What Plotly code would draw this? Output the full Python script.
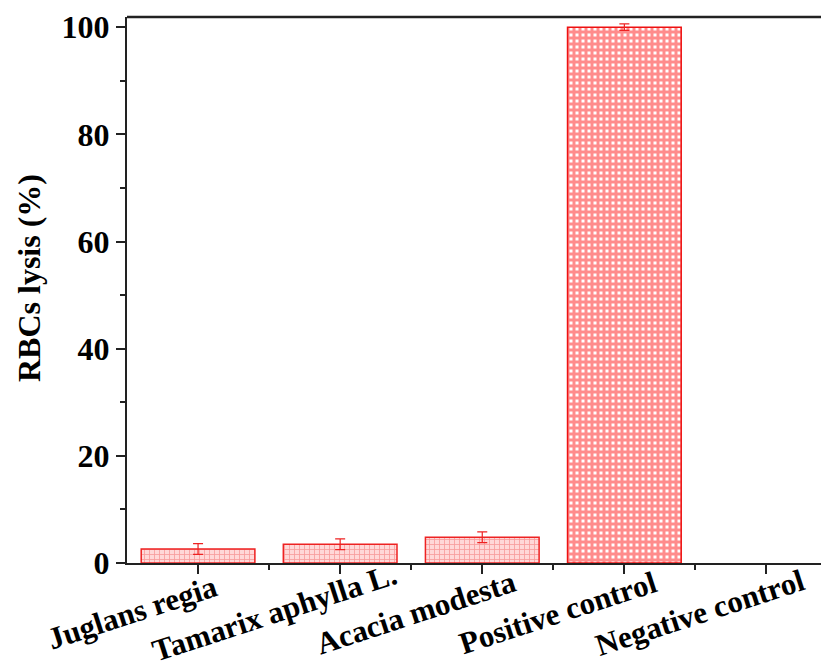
import plotly.graph_objects as go

categories = ["Juglans regia", "Tamarix aphylla L.", "Acacia modesta", "Positive control", "Negative control"]
values = [2.6, 3.5, 4.8, 100.0, None]
errors = [1.0, 1.0, 1.0, 0.6, 0.0]

xpos = list(range(len(categories)))
font_family = "Liberation Serif, Times New Roman, serif"

fig = go.Figure()
fig.add_trace(go.Bar(
    x=xpos[:3], y=values[:3], width=0.8,
    marker=dict(color="rgba(255,190,190,1)",
                line=dict(color="#ee2222", width=1.5),
                pattern=dict(shape="+", fgcolor="#f06060", bgcolor="#ffd8d8", size=5, solidity=0.3)),
    error_y=dict(type="data", array=errors[:3], visible=True, color="#ee2222", thickness=1.2, width=5),
    showlegend=False,
))
fig.add_trace(go.Bar(
    x=xpos[3:], y=values[3:], width=0.8,
    marker=dict(color="#ff2020",
                line=dict(color="#ee1111", width=1.5),
                pattern=dict(shape="+", fgcolor="#ff1a1a", bgcolor="#ffffff", size=6, solidity=0.75)),
    error_y=dict(type="data", array=errors[3:], visible=True, color="#ee2222", thickness=1.2, width=5),
    showlegend=False,
))

for i, name in zip(xpos, categories):
    fig.add_annotation(x=i, y=0, xref="x", yref="y", text=name, showarrow=False,
                       textangle=-18, xanchor="center", yanchor="middle",
                       xshift=-66, yshift=-49,
                       font=dict(size=31, family=font_family, weight="bold", color="black"))

fig.add_annotation(x=0, y=0.5, xref="paper", yref="paper", text="RBCs lysis (%)", showarrow=False,
                   textangle=-90, xanchor="center", yanchor="middle", xshift=-98, yshift=12,
                   font=dict(size=32, family=font_family, weight="bold", color="black"))

fig.update_layout(
    width=821, height=663,
    margin=dict(l=119, r=0, t=9, b=108),
    plot_bgcolor="white", paper_bgcolor="white",
    font=dict(family=font_family, color="black"),
    bargap=0.2,
    xaxis=dict(
        range=[-0.5, 4.44], tickvals=xpos, ticktext=[""] * len(xpos),
        automargin=False,
        showline=True, linecolor="#222", linewidth=2,
        ticks="outside", ticklen=9, tickwidth=2, tickcolor="#222",
        minor=dict(tickvals=[0.5, 1.5, 2.5, 3.5], ticks="outside", ticklen=5, tickwidth=2, tickcolor="#222"),
        showgrid=False, zeroline=False,
    ),
    yaxis=dict(
        range=[0, 101.9], tickvals=[0, 20, 40, 60, 80, 100],
        tickfont=dict(size=32, family=font_family, weight="bold"),
        automargin=False,
        showline=True, linecolor="#222", linewidth=2,
        ticks="outside", ticklen=9, tickwidth=2, tickcolor="#222",
        minor=dict(tickvals=[10, 30, 50, 70, 90], ticks="outside", ticklen=5, tickwidth=2, tickcolor="#222"),
        showgrid=False, zeroline=False,
    ),
)
fig.add_shape(type="line", xref="paper", yref="paper", x0=0, x1=1, y0=1, y1=1,
              line=dict(color="#222", width=2.5))

fig.write_html("out.html")
